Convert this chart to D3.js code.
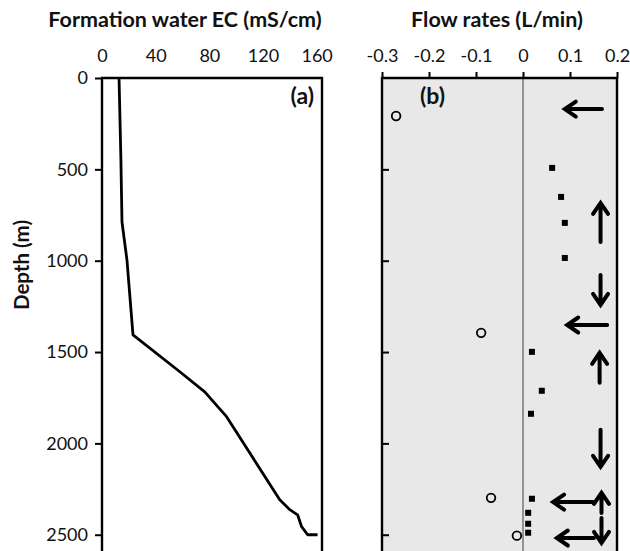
<!DOCTYPE html>
<html>
<head>
<meta charset="utf-8">
<script src="https://cdn.jsdelivr.net/npm/d3@7"></script>
<style>
  body { margin: 0; background: #fff; }
  text { font-family: Lato, "Open Sans", sans-serif; fill: #111; }
</style>
</head>
<body>
<svg id="chart"></svg>
<script>
// panel (a): formation water EC profile
const ecValues = [12.7, 14.1, 14.9, 18.6, 23.1, 58.0, 76.6, 93.0, 132.5, 140.0, 145.8, 148.8, 153.3, 160.7];
const ecDepths = [0, 449, 788, 996, 1406, 1608, 1718, 1855, 2309, 2363, 2391, 2456, 2500, 2500];

// panel (b): flow rates
const outflowRates = [-0.27, -0.089, -0.068, -0.013];
const outflowDepths = [208, 1395, 2298, 2505];
const inflowRates = [0.062, 0.081, 0.089, 0.089, 0.019, 0.040, 0.017, 0.019, 0.011, 0.011, 0.011];
const inflowDepths = [492, 651, 793, 985, 1499, 1712, 1838, 2303, 2380, 2440, 2489];

// arrows: [flow tail, depth tail, flow head, depth head]
const arrows = [
  [0.168, 170, 0.089, 170],
  [0.179, 1352, 0.094, 1352],
  [0.149, 2321, 0.064, 2321],
  [0.151, 2518, 0.072, 2518],
  [0.165, 897, 0.165, 684],
  [0.165, 1078, 0.165, 1242],
  [0.163, 1668, 0.163, 1504],
  [0.165, 1926, 0.165, 2128],
  [0.167, 2381, 0.167, 2271],
  [0.167, 2408, 0.167, 2545]
];

const ecTicks = [0, 40, 80, 120, 160];
const flowTicks = [-0.3, -0.2, -0.1, 0, 0.1, 0.2];
const depthTicks = [0, 500, 1000, 1500, 2000, 2500];

const width = 630;
const height = 551;

const svg = d3.select("#chart")
              .attr("width", width)
              .attr("height", height);

const yScale = d3.scaleLinear().domain([0, 2600]).range([78, 553]);
const xA = d3.scaleLinear().domain([0, 164]).range([102, 322]);
const xB = d3.scaleLinear().domain([-0.3, 0.2]).range([382, 617]);

// ---- panel (a)
svg.append("text")
   .attr("x", 185).attr("y", 27)
   .attr("text-anchor", "middle")
   .style("font-size", "21.5px").style("font-weight", "bold")
   .text("Formation water EC (mS/cm)");

svg.append("text")
   .attr("transform", "translate(29, 265) rotate(-90)")
   .attr("text-anchor", "middle")
   .style("font-size", "20.5px").style("font-weight", "bold")
   .text("Depth (m)");

const axisA = d3.axisTop(xA).tickValues(ecTicks).tickSize(0).tickPadding(16);
svg.append("g")
   .attr("transform", `translate(0, ${yScale(0)})`)
   .call(axisA)
   .call(g => g.select(".domain").remove())
   .selectAll("text").style("font-size", "18px");

const yAxisA = d3.axisLeft(yScale).tickValues(depthTicks).tickSize(7).tickPadding(7)
                 .tickFormat(d3.format("d"));
svg.append("g")
   .attr("transform", `translate(${xA(0)}, 0)`)
   .call(yAxisA)
   .call(g => g.select(".domain").remove())
   .call(g => g.selectAll("line").attr("stroke", "#000").attr("stroke-width", 2))
   .selectAll("text").style("font-size", "18px");

// frame a (left, top, right)
svg.append("path")
   .attr("d", `M${xA(0)},${height} V${yScale(0)} H${xA(164)} V${height}`)
   .attr("fill", "none").attr("stroke", "#000").attr("stroke-width", 2.4);

const ecLine = d3.line()
                 .x((d, i) => xA(d))
                 .y((d, i) => yScale(ecDepths[i]))
                 .curve(d3.curveLinear);

svg.append("path")
   .datum(ecValues)
   .attr("d", ecLine)
   .attr("fill", "none").attr("stroke", "#000").attr("stroke-width", 2.8)
   .attr("stroke-linejoin", "round");

svg.append("text")
   .attr("x", 314).attr("y", 104)
   .attr("text-anchor", "end")
   .style("font-size", "23px").style("font-weight", "bold")
   .text("(a)");

// ---- panel (b)
svg.append("text")
   .attr("x", 497).attr("y", 27)
   .attr("text-anchor", "middle")
   .style("font-size", "21.5px").style("font-weight", "bold")
   .text("Flow rates (L/min)");

svg.append("rect")
   .attr("x", xB(-0.3)).attr("y", yScale(0))
   .attr("width", xB(0.2) - xB(-0.3)).attr("height", height - yScale(0))
   .attr("fill", "#e8e8e8");

svg.append("line")
   .attr("x1", xB(0)).attr("x2", xB(0))
   .attr("y1", yScale(0)).attr("y2", height)
   .attr("stroke", "#6e6e6e").attr("stroke-width", 1.4);

const axisB = d3.axisTop(xB).tickValues(flowTicks).tickSize(6).tickPadding(10)
                .tickFormat(d => d === 0 ? "0" : d3.format(".1f")(d).replace("−", "-"));
svg.append("g")
   .attr("transform", `translate(0, ${yScale(0)})`)
   .call(axisB)
   .call(g => g.select(".domain").remove())
   .call(g => g.selectAll("line").attr("stroke", "#000").attr("stroke-width", 2))
   .selectAll("text").style("font-size", "18px");

const yAxisB = d3.axisRight(yScale).tickValues(depthTicks.slice(1)).tickSize(7).tickFormat("");
svg.append("g")
   .attr("transform", `translate(${xB(-0.3)}, 0)`)
   .call(yAxisB)
   .call(g => g.select(".domain").remove())
   .call(g => g.selectAll("line").attr("stroke", "#000").attr("stroke-width", 2));

svg.append("path")
   .attr("d", `M${xB(-0.3)},${height} V${yScale(0)} H${xB(0.2)} V${height}`)
   .attr("fill", "none").attr("stroke", "#000").attr("stroke-width", 2.4);

svg.append("text")
   .attr("x", 420).attr("y", 104)
   .style("font-size", "23px").style("font-weight", "bold")
   .text("(b)");

svg.selectAll(".outflow")
   .data(outflowRates)
   .enter()
   .append("circle")
   .attr("class", "outflow")
   .attr("cx", d => xB(d))
   .attr("cy", (d, i) => yScale(outflowDepths[i]))
   .attr("r", 4.3)
   .attr("fill", "none").attr("stroke", "#000").attr("stroke-width", 1.8);

svg.selectAll(".inflow")
   .data(inflowRates)
   .enter()
   .append("rect")
   .attr("class", "inflow")
   .attr("x", d => xB(d) - 3)
   .attr("y", (d, i) => yScale(inflowDepths[i]) - 3)
   .attr("width", 6).attr("height", 6)
   .attr("fill", "#000");

const arrowPath = d => {
  const x1 = xB(d[0]), y1 = yScale(d[1]), x2 = xB(d[2]), y2 = yScale(d[3]);
  const len = Math.hypot(x2 - x1, y2 - y1);
  const ux = (x2 - x1) / len, uy = (y2 - y1) / len;
  const hl = 11, hw = 7.5;
  const bx = x2 - ux * hl, by = y2 - uy * hl;
  return `M${x1},${y1} L${x2},${y2} M${bx - uy * hw},${by + ux * hw} L${x2},${y2} L${bx + uy * hw},${by - ux * hw}`;
};

svg.selectAll(".arrow")
   .data(arrows)
   .enter()
   .append("path")
   .attr("class", "arrow")
   .attr("d", arrowPath)
   .attr("fill", "none").attr("stroke", "#000").attr("stroke-width", 4)
   .attr("stroke-linecap", "round").attr("stroke-linejoin", "miter");
</script>
</body>
</html>
